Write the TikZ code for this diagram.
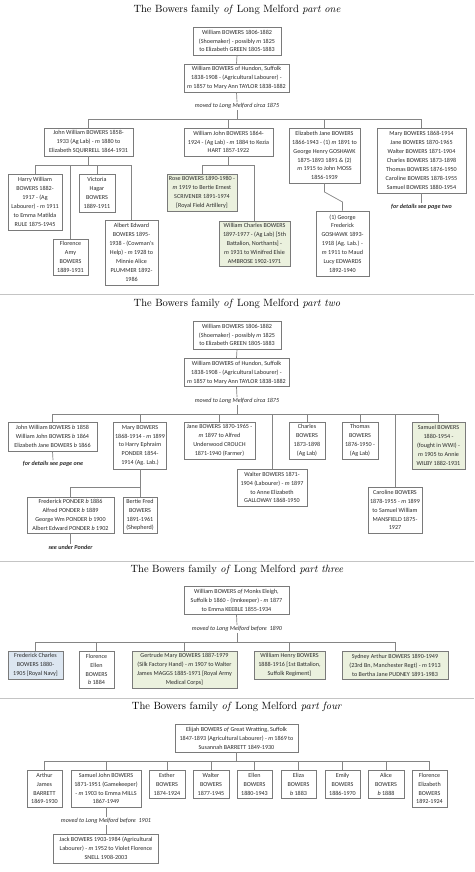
\documentclass[tikz,border=0pt]{standalone}
\usepackage{fontspec}
\newfontfamily\boxfont{Carlito}
\definecolor{bordergray}{HTML}{7A7A7A}
\definecolor{linegray}{HTML}{858585}
\definecolor{sepgray}{HTML}{C4C4C4}
\definecolor{txt}{HTML}{2A2A2A}
\definecolor{greenfill}{HTML}{EBF1DE}
\definecolor{bluefill}{HTML}{DCE6F1}
\tikzset{
  box/.style={draw=bordergray, line width=0.6pt, fill=white, inner sep=0pt, align=center, text=txt,
    font=\boxfont\fontsize{6.1}{8.9}\selectfont},
  gbox/.style={box, fill=greenfill},
  bbox/.style={box, fill=bluefill},
  wh/.style 2 args={minimum width=#1, minimum height=#2},
  conn/.style={draw=linegray, line width=0.7pt},
  sepline/.style={draw=sepgray, line width=0.9pt},
  note/.style={inner sep=1pt, text=txt, font=\boxfont\itshape\fontsize{6.1}{7}\selectfont},
  bnote/.style={inner sep=1pt, text=txt, font=\boxfont\bfseries\itshape\fontsize{6.1}{7}\selectfont},
  ttl/.style={inner sep=0pt, text=black, font=\fontsize{10.5}{12}\selectfont},
}
\begin{document}
\begin{tikzpicture}[x=1pt, y=-1pt]
\useasboundingbox (0,0) rectangle (474,872);
\fill[white] (0,0) rectangle (474,872);

% ================= PART ONE =================
\node[ttl] (t1) at (237,10) {The Bowers family \textit{of} Long Melford \textit{part one}};
\node[box, wh={88}{28}] (a1) at (237,41) {William BOWERS 1806-1882\\(Shoemaker) - possibly \textit{m} 1825\\to Elizabeth GREEN 1805-1883};
\node[box, wh={105}{28}] (a2) at (236.5,78) {William BOWERS of Hundon, Suffolk\\1838-1908 - (Agricultural Labourer) -\\\textit{m} 1857 to Mary Ann TAYLOR 1838-1882};
\node[note] (mv1) at (237,106) {moved to Long Melford circa 1875};
\coordinate (bar1) at (237,119.5);
\draw[conn] (a1.south) -- (a2.north);
\draw[conn] (a2.south) -- (mv1.north);
\draw[conn] (mv1.south) -- (bar1);

\node[box, wh={89}{28}] (c1) at (88.5,142) {John William BOWERS 1858-\\1933 (Ag Lab) - \textit{m} 1880 to\\Elizabeth SQUIRRELL 1864-1931};
\node[box, wh={89}{28}] (c2) at (228.5,142) {William John BOWERS 1864-\\1924 - (Ag Lab) - \textit{m} 1884 to Kezia\\HART 1857-1922};
\node[box, wh={71}{55}] (c3) at (324.5,155.5) {Elizabeth Jane BOWERS\\1866-1943 - (1) \textit{m} 1891 to\\George Henry GOSHAWK\\1875-1893 1891 \& (2)\\\textit{m} 1915 to John MOSS\\1856-1939};
\node[box, wh={89}{65}] (c4) at (421.5,160.5) {Mary BOWERS 1868-1914\\Jane BOWERS 1870-1965\\Walter BOWERS 1871-1904\\Charles BOWERS 1873-1898\\Thomas BOWERS 1876-1950\\Caroline BOWERS 1878-1955\\Samuel BOWERS 1880-1954};
\draw[conn] (c1.north) -- (c1.north |- bar1) -- (c4.north |- bar1) -- (c4.north);
\draw[conn] (c2.north) -- (c2.north |- bar1);
\draw[conn] (c3.north) -- (c3.north |- bar1);
\node[bnote] (fd1) at (421.5,207) {for details see page two};
\draw[conn] (c4.south) -- (fd1.north);

% John William's children
\coordinate (bar2) at (88.5,165);
\node[box, wh={54}{56}] (d1) at (35,202) {Harry William\\BOWERS 1882-\\1917 - (Ag\\Labourer) - \textit{m} 1911\\to Emma Matilda\\RULE 1875-1945};
\node[box, wh={36}{38}] (d2) at (97,193) {Victoria\\Hagar\\BOWERS\\1889-1911};
\node[box, wh={35}{36}] (d3) at (70.5,257) {Florence\\Amy\\BOWERS\\1889-1931};
\node[box, wh={53}{65}] (d4) at (131.5,252.5) {Albert Edward\\BOWERS 1895-\\1938 - (Cowman's\\Help) - \textit{m} 1928 to\\Minnie Alice\\PLUMMER 1892-\\1986};
\draw[conn] (c1.south) -- (bar2);
\draw[conn] (d1.north) -- (d1.north |- bar2) -- (d4.north |- bar2) -- (d4.north);
\draw[conn] (d2.north) -- (d2.north |- bar2);
\draw[conn] (d3.north) -- (d3.north |- bar2);

% William John's children
\coordinate (bar3) at (228.5,165);
\node[gbox, wh={70}{37}] (e1) at (202,192.5) {Rose BOWERS 1890-1980 -\\\textit{m} 1919 to Bertie Ernest\\SCRIVENER 1891-1974\\{[}Royal Field Artillery{]}};
\node[gbox, wh={71}{45}] (e2) at (254.5,243.5) {William Charles BOWERS\\1897-1977 - (Ag Lab) {[}5th\\Battalion, Northants{]} -\\\textit{m} 1931 to Winifred Elsie\\AMBROSE 1902-1971};
\draw[conn] (c2.south) -- (bar3);
\draw[conn] (e1.north) -- (e1.north |- bar3) -- (e2.north |- bar3) -- (e2.north);

% Elizabeth Jane's child
\node[box, wh={53}{65}] (f1) at (342.5,243.5) {(1) George\\Frederick\\GOSHAWK 1893-\\1918 (Ag. Lab.) -\\\textit{m} 1911 to Maud\\Lucy EDWARDS\\1892-1940};
\draw[conn] (c3.south) -- (c3.south |- 0,192) -- (f1.north |- 0,202) -- (f1.north);

\draw[sepline] (0,294) -- (474,294);

% ================= PART TWO =================
\node[ttl] (t2) at (237,304) {The Bowers family \textit{of} Long Melford \textit{part two}};
\node[box, wh={88}{28}] (b1) at (237,335) {William BOWERS 1806-1882\\(Shoemaker) - possibly \textit{m} 1825\\to Elizabeth GREEN 1805-1883};
\node[box, wh={105}{28}] (b2) at (236.5,372.5) {William BOWERS of Hundon, Suffolk\\1838-1908 - (Agricultural Labourer) -\\\textit{m} 1857 to Mary Ann TAYLOR 1838-1882};
\node[note] (mv2) at (237,401) {moved to Long Melford circa 1875};
\coordinate (bar4) at (237,414);
\draw[conn] (b1.south) -- (b2.north);
\draw[conn] (b2.south) -- (mv2.north);
\draw[conn] (mv2.south) -- (bar4);

\node[box, wh={89}{29}] (g1) at (52.5,436.5) {John William BOWERS \textit{b} 1858\\William John BOWERS \textit{b} 1864\\Elizabeth Jane BOWERS \textit{b} 1866};
\node[box, wh={53}{47}] (g2) at (140,445.5) {Mary BOWERS\\1868-1914 - \textit{m} 1899\\to Harry Ephraim\\PONDER 1854-\\1914 (Ag. Lab.)};
\node[box, wh={71}{37}] (g3) at (219.5,440.5) {Jane BOWERS 1870-1965 -\\\textit{m} 1897 to Alfred\\Underwood CROUCH\\1871-1940 (Farmer)};
\node[box, wh={70}{37}] (g4) at (272,487.5) {Walter BOWERS 1871-\\1904 (Labourer) - \textit{m} 1897\\to Anne Elizabeth\\GALLOWAY 1868-1950};
\node[box, wh={36}{37}] (g5) at (307,440.5) {Charles\\BOWERS\\1873-1898\\(Ag Lab)};
\node[box, wh={36}{37}] (g6) at (360,440.5) {Thomas\\BOWERS\\1876-1950 -\\(Ag Lab)};
\node[box, wh={54}{46}] (g7) at (395,510) {Caroline BOWERS\\1878-1955 - \textit{m} 1899\\to Samuel William\\MANSFIELD 1875-\\1927};
\node[gbox, wh={53}{47}] (g8) at (438.5,445.5) {Samuel BOWERS\\1880-1954 -\\(fought in WWI) -\\\textit{m} 1905 to Annie\\WILBY 1882-1931};
\draw[conn] (g1.north) -- (g1.north |- bar4) -- (g8.north |- bar4) -- (g8.north);
\foreach \n in {g2,g3,g4,g5,g6,g7} \draw[conn] (\n.north) -- (\n.north |- bar4);
\node[bnote] (fd2) at (53,464) {for details see page one};
\draw[conn] (g1.south) -- (fd2.north);

% Mary's children
\coordinate (bar5) at (140,487);
\node[box, wh={87}{36}] (h1) at (70.5,515) {Frederick PONDER \textit{b} 1886\\Alfred PONDER \textit{b} 1889\\George Wm PONDER \textit{b} 1900\\Albert Edward PONDER \textit{b} 1902};
\node[box, wh={34}{36}] (h2) at (140,515) {Bertie Fred\\BOWERS\\1891-1961\\(Shepherd)};
\draw[conn] (g2.south) -- (bar5);
\draw[conn] (h1.north) -- (h1.north |- bar5) -- (h2.north |- bar5) -- (h2.north);
\node[bnote] (su) at (70.5,547) {see under Ponder};
\draw[conn] (h1.south) -- (su.north);

\draw[sepline] (0,561) -- (474,561);

% ================= PART THREE =================
\node[ttl] (t3) at (237,570) {The Bowers family \textit{of} Long Melford \textit{part three}};
\node[box, wh={105}{28}] (k1) at (236.5,600.5) {William BOWERS \textit{of} Monks Eleigh,\\Suffolk \textit{b} 1860 - (Innkeeper) - \textit{m} 1877\\to Emma KEEBLE 1855-1934};
\node[note] (mv3) at (237,629) {moved to Long Melford before\ \ 1890};
\coordinate (bar6) at (237,642);
\draw[conn] (k1.south) -- (mv3.north);
\draw[conn] (mv3.south) -- (bar6);
\node[bbox, wh={55}{28}] (m1) at (35.5,665) {Frederick Charles\\BOWERS 1880-\\1905 {[}Royal Navy{]}};
\node[box, wh={35}{37}] (m2) at (96.5,669.5) {Florence\\Ellen\\BOWERS\\\textit{b} 1884};
\node[gbox, wh={105}{37}] (m3) at (184.5,669.5) {Gertrude Mary BOWERS 1887-1979\\(Silk Factory Hand) - \textit{m} 1907 to Walter\\James MAGGS 1885-1971 {[}Royal Army\\Medical Corps{]}};
\node[gbox, wh={71}{28}] (m4) at (289.5,665) {William Henry BOWERS\\1888-1916 {[}1st Battalion,\\Suffolk Regiment{]}};
\node[gbox, wh={106}{28}] (m5) at (395,665) {Sydney Arthur BOWERS 1890-1949\\(23rd Bn, Manchester Regt) - \textit{m} 1913\\to Bertha Jane PUDNEY 1891-1983};
\draw[conn] (m1.north) -- (m1.north |- bar6) -- (m5.north |- bar6) -- (m5.north);
\foreach \n in {m2,m3,m4} \draw[conn] (\n.north) -- (\n.north |- bar6);

\draw[sepline] (0,698) -- (474,698);

% ================= PART FOUR =================
\node[ttl] (t4) at (237,707) {The Bowers family \textit{of} Long Melford \textit{part four}};
\node[box, wh={123}{28}] (n1) at (236.5,738) {Elijah BOWERS \textit{of} Great Wratting, Suffolk\\1847-1893 (Agricultural Labourer) - \textit{m} 1869 to\\Susannah BARRETT 1849-1930};
\coordinate (bar7) at (236.5,761);
\draw[conn] (n1.south) -- (bar7);
\node[box, wh={35}{37}] (p1) at (44.5,788.5) {Arthur\\James\\BARRETT\\1869-1930};
\node[box, wh={70}{37}] (p2) at (106,788.5) {Samuel John BOWERS\\1871-1951 (Gamekeeper)\\- \textit{m} 1903 to Emma MILLS\\1867-1949};
\node[box, wh={36}{28}] (p3) at (167,784) {Esther\\BOWERS\\1874-1924};
\node[box, wh={36}{28}] (p4) at (211,784) {Walter\\BOWERS\\1877-1945};
\node[box, wh={35}{28}] (p5) at (254.5,784) {Ellen\\BOWERS\\1880-1943};
\node[box, wh={35}{28}] (p6) at (298.5,784) {Eliza\\BOWERS\\\textit{b} 1883};
\node[box, wh={35}{28}] (p7) at (342.5,784) {Emily\\BOWERS\\1886-1970};
\node[box, wh={36}{28}] (p8) at (386,784) {Alice\\BOWERS\\\textit{b} 1888};
\node[box, wh={35}{37}] (p9) at (429.5,788.5) {Florence\\Elizabeth\\BOWERS\\1892-1924};
\draw[conn] (p1.north) -- (p1.north |- bar7) -- (p9.north |- bar7) -- (p9.north);
\foreach \n in {p2,p3,p4,p5,p6,p7,p8} \draw[conn] (\n.north) -- (\n.north |- bar7);
\node[note] (mv4) at (106,821) {moved to Long Melford before\ \ 1901};
\node[box, wh={105}{29}] (q1) at (106,848.5) {Jack BOWERS 1903-1984 (Agricultural\\Labourer) - \textit{m} 1952 to Violet Florence\\SNELL 1908-2003};
\draw[conn] (p2.south) -- (mv4.north);
\draw[conn] (mv4.south) -- (q1.north);
\end{tikzpicture}
\end{document}
